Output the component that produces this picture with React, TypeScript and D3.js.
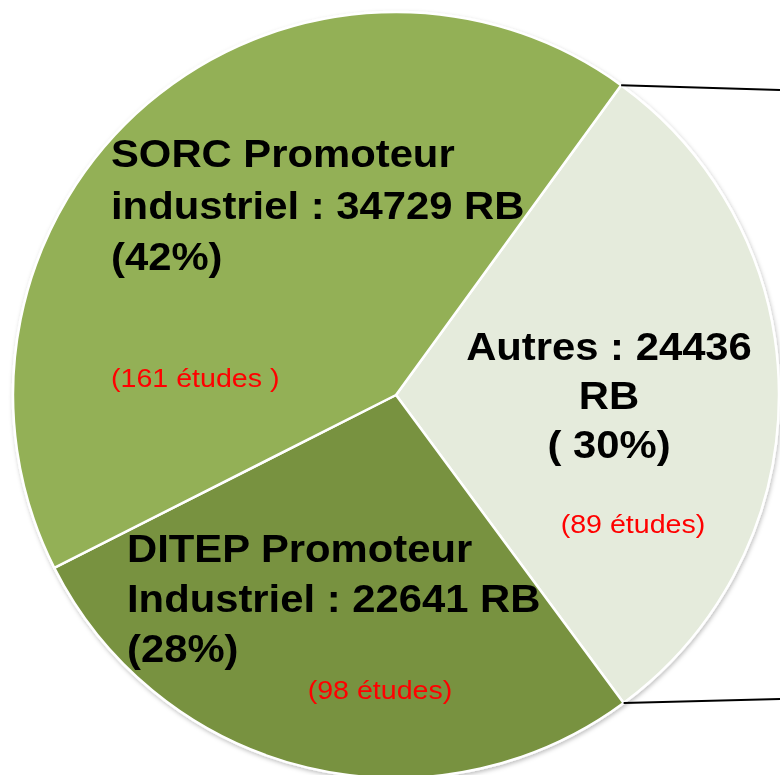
import React from "react";
import * as d3 from "d3";

const categories = ["Autres", "DITEP Promoteur Industriel", "SORC Promoteur industriel"];
const values = [24436, 22641, 34729];
const studies = [89, 98, 161];
const colors = ["#E5EBDC", "#78923F", "#93B056"];

const W = 780;
const H = 775;
const cx = 396;
const cy = 395;
const R = 383;

export default function App() {
  const pie = d3
    .pie<number>()
    .sort(null)
    .value((d) => d)
    .startAngle((36 * Math.PI) / 180)
    .endAngle((36 * Math.PI) / 180 + 2 * Math.PI);
  const arcs = pie(values);
  const arc = d3.arc<d3.PieArcDatum<number>>().innerRadius(0).outerRadius(R);

  const pt = (a: number) => [cx + R * Math.sin(a), cy - R * Math.cos(a)];
  const pTop = pt(arcs[0].startAngle);
  const pBot = pt(arcs[0].endAngle);

  const total = d3.sum(values);
  const pct = values.map((v) => Math.round((v / total) * 100));

  const bold = {
    fontFamily: "'Liberation Sans', Arial, sans-serif",
    fontWeight: 700,
    fontSize: 38,
    fill: "#000",
  } as const;
  const red = {
    fontFamily: "'Liberation Sans', Arial, sans-serif",
    fontWeight: 400,
    fontSize: 26,
    fill: "#FF0000",
  } as const;

  return (
    <svg
      width={W}
      height={H}
      style={{ position: "absolute", left: 0, top: 0, background: "#fff" }}
    >
      <defs>
        <filter id="sh" x="-10%" y="-10%" width="120%" height="120%">
          <feDropShadow dx="1" dy="2" stdDeviation="2" floodColor="#000" floodOpacity="0.25" />
        </filter>
      </defs>
      <g filter="url(#sh)">
        {arcs.map((a, i) => (
          <path
            key={categories[i]}
            d={arc(a) || ""}
            transform={`translate(${cx},${cy})`}
            fill={colors[i]}
            stroke="#fff"
            strokeWidth={2.5}
            strokeLinejoin="round"
          />
        ))}
      </g>
      <line x1={pTop[0]} y1={pTop[1]} x2={780} y2={90} stroke="#000" strokeWidth={2} />
      <line x1={pBot[0]} y1={pBot[1]} x2={780} y2={699} stroke="#000" strokeWidth={2} />

      {/* SORC */}
      <g transform="translate(111,0) scale(1.1,1)" style={bold}>
        <text x={0} y={167}>SORC Promoteur</text>
        <text x={0} y={219}>{`industriel : ${values[2]} RB`}</text>
        <text x={0} y={270}>{`(${pct[2]}%)`}</text>
      </g>
      <g transform="translate(111,0) scale(1.1,1)" style={red}>
        <text x={0} y={387}>{`(${studies[2]} études )`}</text>
      </g>

      {/* Autres */}
      <g transform="translate(609,0) scale(1.1,1)" style={bold} textAnchor="middle">
        <text x={0} y={360}>{`Autres : ${values[0]}`}</text>
        <text x={0} y={409}>RB</text>
        <text x={0} y={458}>{`( ${pct[0]}%)`}</text>
      </g>
      <g transform="translate(633,0) scale(1.1,1)" style={red} textAnchor="middle">
        <text x={0} y={533}>{`(${studies[0]} études)`}</text>
      </g>

      {/* DITEP */}
      <g transform="translate(127,0) scale(1.1,1)" style={bold}>
        <text x={0} y={562}>DITEP Promoteur</text>
        <text x={0} y={612}>{`Industriel : ${values[1]} RB`}</text>
        <text x={0} y={662}>{`(${pct[1]}%)`}</text>
      </g>
      <g transform="translate(380,0) scale(1.1,1)" style={red} textAnchor="middle">
        <text x={0} y={699}>{`(${studies[1]} études)`}</text>
      </g>
    </svg>
  );
}
